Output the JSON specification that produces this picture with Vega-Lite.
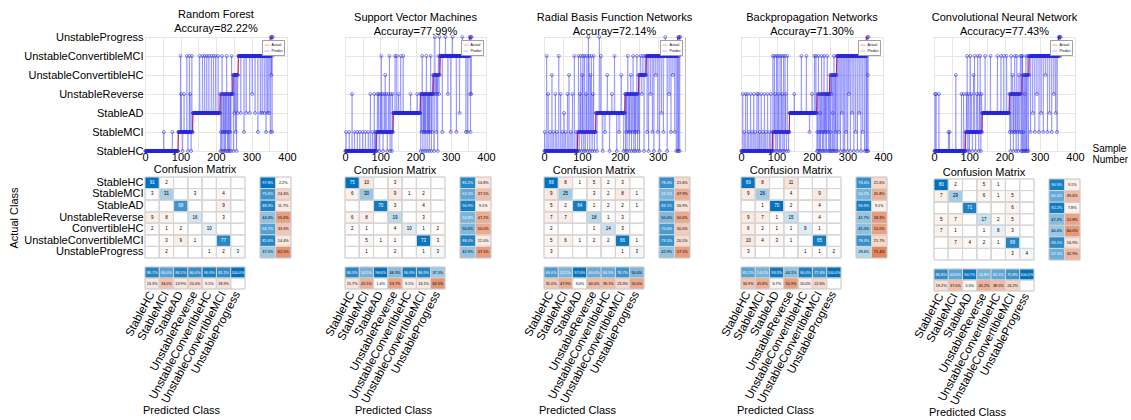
{
"$schema":"https://vega.github.io/schema/vega-lite/v6.json",
"background":"white",
"padding":{"left":8,"top":8,"right":0,"bottom":0},
"config":{"font":"Liberation Sans","view":{"stroke":null},
"title":{"fontSize":11,"fontWeight":"normal","color":"black","lineHeight":14,"offset":-3,"font":"Liberation Sans"},
"axis":{"labelFont":"Liberation Sans","titleFont":"Liberation Sans","labelColor":"black","titleColor":"black","titleFontWeight":"normal","labelFontSize":11,"titleFontSize":11},
"legend":{"labelFont":"Liberation Sans"}},
"spacing":26,
"resolve":{"scale":{"color":"independent","fillOpacity":"independent"},"legend":{"color":"independent"}},
"datasets":{
"samples":[
{"i":1,"a":0,"svm":0,"rbf":0,"bp":0,"cnn":0,"ra":0,"rf":0},
{"i":2,"a":0,"svm":0,"rbf":1,"bp":0,"cnn":0,"ra":0,"rf":0},
{"i":3,"a":0,"svm":1,"rbf":0,"bp":0,"cnn":3,"ra":0,"rf":0},
{"i":4,"a":0,"svm":0,"rbf":0,"bp":0,"cnn":0,"ra":0,"rf":0},
{"i":5,"a":0,"svm":0,"rbf":0,"bp":3,"cnn":0,"ra":0,"rf":0},
{"i":6,"a":0,"svm":0,"rbf":0,"bp":0,"cnn":3,"ra":0,"rf":0},
{"i":7,"a":0,"svm":0,"rbf":5,"bp":0,"cnn":0,"ra":0,"rf":0},
{"i":8,"a":0,"svm":0,"rbf":0,"bp":0,"cnn":0,"ra":0,"rf":0},
{"i":9,"a":0,"svm":0,"rbf":0,"bp":1,"cnn":0,"ra":0,"rf":0},
{"i":10,"a":0,"svm":0,"rbf":0,"bp":0,"cnn":0,"ra":0,"rf":0},
{"i":11,"a":0,"svm":0,"rbf":3,"bp":0,"cnn":0,"ra":0,"rf":0},
{"i":12,"a":0,"svm":1,"rbf":0,"bp":0,"cnn":0,"ra":0,"rf":0},
{"i":13,"a":0,"svm":0,"rbf":0,"bp":3,"cnn":0,"ra":0,"rf":0},
{"i":14,"a":0,"svm":0,"rbf":0,"bp":0,"cnn":3,"ra":0,"rf":0},
{"i":15,"a":0,"svm":0,"rbf":0,"bp":0,"cnn":0,"ra":0,"rf":0},
{"i":16,"a":0,"svm":0,"rbf":1,"bp":0,"cnn":0,"ra":0,"rf":0},
{"i":17,"a":0,"svm":0,"rbf":0,"bp":0,"cnn":0,"ra":0,"rf":0},
{"i":18,"a":0,"svm":0,"rbf":0,"bp":3,"cnn":0,"ra":0,"rf":0},
{"i":19,"a":0,"svm":0,"rbf":0,"bp":0,"cnn":0,"ra":0,"rf":0},
{"i":20,"a":0,"svm":3,"rbf":0,"bp":0,"cnn":0,"ra":0,"rf":0},
{"i":21,"a":0,"svm":0,"rbf":4,"bp":0,"cnn":0,"ra":0,"rf":0},
{"i":22,"a":0,"svm":0,"rbf":0,"bp":1,"cnn":0,"ra":0,"rf":0},
{"i":23,"a":0,"svm":0,"rbf":0,"bp":0,"cnn":0,"ra":0,"rf":0},
{"i":24,"a":0,"svm":0,"rbf":0,"bp":0,"cnn":0,"ra":0,"rf":0},
{"i":25,"a":0,"svm":0,"rbf":1,"bp":0,"cnn":0,"ra":0,"rf":0},
{"i":26,"a":0,"svm":0,"rbf":0,"bp":0,"cnn":0,"ra":0,"rf":0},
{"i":27,"a":0,"svm":1,"rbf":0,"bp":3,"cnn":0,"ra":0,"rf":0},
{"i":28,"a":0,"svm":0,"rbf":0,"bp":0,"cnn":0,"ra":0,"rf":0},
{"i":29,"a":0,"svm":0,"rbf":0,"bp":0,"cnn":0,"ra":0,"rf":0},
{"i":30,"a":0,"svm":0,"rbf":3,"bp":0,"cnn":0,"ra":0,"rf":0},
{"i":31,"a":0,"svm":0,"rbf":0,"bp":1,"cnn":0,"ra":0,"rf":0},
{"i":32,"a":0,"svm":0,"rbf":0,"bp":0,"cnn":0,"ra":0,"rf":0},
{"i":33,"a":0,"svm":0,"rbf":0,"bp":0,"cnn":0,"ra":0,"rf":0},
{"i":34,"a":0,"svm":0,"rbf":1,"bp":0,"cnn":0,"ra":0,"rf":0},
{"i":35,"a":0,"svm":1,"rbf":0,"bp":0,"cnn":0,"ra":0,"rf":0},
{"i":36,"a":0,"svm":0,"rbf":0,"bp":3,"cnn":0,"ra":0,"rf":0},
{"i":37,"a":0,"svm":0,"rbf":0,"bp":0,"cnn":0,"ra":0,"rf":0},
{"i":38,"a":0,"svm":0,"rbf":0,"bp":0,"cnn":0,"ra":0,"rf":0},
{"i":39,"a":0,"svm":0,"rbf":5,"bp":0,"cnn":0,"ra":0,"rf":0},
{"i":40,"a":0,"svm":0,"rbf":0,"bp":1,"cnn":0,"ra":0,"rf":0},
{"i":41,"a":0,"svm":0,"rbf":0,"bp":0,"cnn":1,"ra":0,"rf":0},
{"i":42,"a":0,"svm":1,"rbf":0,"bp":0,"cnn":0,"ra":0,"rf":0},
{"i":43,"a":0,"svm":0,"rbf":0,"bp":0,"cnn":0,"ra":0,"rf":0},
{"i":44,"a":0,"svm":0,"rbf":3,"bp":0,"cnn":1,"ra":0,"rf":0},
{"i":45,"a":0,"svm":0,"rbf":0,"bp":3,"cnn":0,"ra":0,"rf":0},
{"i":46,"a":0,"svm":0,"rbf":0,"bp":0,"cnn":0,"ra":0,"rf":0},
{"i":47,"a":0,"svm":0,"rbf":0,"bp":0,"cnn":0,"ra":0,"rf":0},
{"i":48,"a":0,"svm":0,"rbf":1,"bp":0,"cnn":0,"ra":0,"rf":0},
{"i":49,"a":0,"svm":0,"rbf":0,"bp":3,"cnn":0,"ra":0,"rf":0},
{"i":50,"a":0,"svm":1,"rbf":0,"bp":0,"cnn":0,"ra":0,"rf":0},
{"i":51,"a":0,"svm":0,"rbf":0,"bp":0,"cnn":0,"ra":0,"rf":0},
{"i":52,"a":0,"svm":0,"rbf":0,"bp":0,"cnn":0,"ra":0,"rf":0},
{"i":53,"a":0,"svm":0,"rbf":2,"bp":1,"cnn":0,"ra":0,"rf":1},
{"i":54,"a":0,"svm":0,"rbf":0,"bp":0,"cnn":0,"ra":0,"rf":0},
{"i":55,"a":0,"svm":0,"rbf":0,"bp":0,"cnn":0,"ra":0,"rf":0},
{"i":56,"a":0,"svm":0,"rbf":0,"bp":0,"cnn":0,"ra":0,"rf":0},
{"i":57,"a":0,"svm":0,"rbf":1,"bp":3,"cnn":0,"ra":0,"rf":0},
{"i":58,"a":0,"svm":1,"rbf":0,"bp":0,"cnn":0,"ra":0,"rf":0},
{"i":59,"a":0,"svm":0,"rbf":0,"bp":0,"cnn":0,"ra":0,"rf":0},
{"i":60,"a":0,"svm":0,"rbf":0,"bp":0,"cnn":0,"ra":0,"rf":0},
{"i":61,"a":0,"svm":0,"rbf":0,"bp":0,"cnn":0,"ra":0,"rf":0},
{"i":62,"a":0,"svm":0,"rbf":3,"bp":1,"cnn":4,"ra":0,"rf":0},
{"i":63,"a":0,"svm":0,"rbf":0,"bp":0,"cnn":0,"ra":0,"rf":0},
{"i":64,"a":0,"svm":0,"rbf":0,"bp":0,"cnn":0,"ra":0,"rf":0},
{"i":65,"a":0,"svm":0,"rbf":0,"bp":0,"cnn":0,"ra":0,"rf":0},
{"i":66,"a":0,"svm":1,"rbf":4,"bp":3,"cnn":0,"ra":0,"rf":0},
{"i":67,"a":0,"svm":0,"rbf":0,"bp":0,"cnn":0,"ra":0,"rf":0},
{"i":68,"a":0,"svm":0,"rbf":0,"bp":0,"cnn":0,"ra":0,"rf":0},
{"i":69,"a":0,"svm":0,"rbf":0,"bp":0,"cnn":0,"ra":0,"rf":0},
{"i":70,"a":0,"svm":0,"rbf":0,"bp":1,"cnn":0,"ra":0,"rf":0},
{"i":71,"a":0,"svm":0,"rbf":1,"bp":0,"cnn":0,"ra":0,"rf":0},
{"i":72,"a":0,"svm":3,"rbf":0,"bp":0,"cnn":0,"ra":0,"rf":0},
{"i":73,"a":0,"svm":0,"rbf":0,"bp":0,"cnn":0,"ra":0,"rf":0},
{"i":74,"a":0,"svm":0,"rbf":0,"bp":0,"cnn":0,"ra":0,"rf":0},
{"i":75,"a":0,"svm":0,"rbf":3,"bp":3,"cnn":0,"ra":0,"rf":0},
{"i":76,"a":0,"svm":0,"rbf":0,"bp":0,"cnn":0,"ra":0,"rf":0},
{"i":77,"a":0,"svm":0,"rbf":0,"bp":0,"cnn":0,"ra":0,"rf":1},
{"i":78,"a":0,"svm":1,"rbf":0,"bp":0,"cnn":3,"ra":0,"rf":0},
{"i":79,"a":0,"svm":0,"rbf":0,"bp":0,"cnn":0,"ra":0,"rf":0},
{"i":80,"a":0,"svm":0,"rbf":5,"bp":1,"cnn":0,"ra":0,"rf":0},
{"i":81,"a":0,"svm":0,"rbf":0,"bp":0,"cnn":0,"ra":0,"rf":0},
{"i":82,"a":0,"svm":0,"rbf":0,"bp":0,"cnn":0,"ra":0,"rf":0},
{"i":83,"a":0,"svm":3,"rbf":0,"bp":0,"cnn":0,"ra":0,"rf":0},
{"i":84,"a":0,"svm":0,"rbf":0,"bp":3,"cnn":3,"ra":0,"rf":0},
{"i":85,"a":0,"svm":0,"rbf":1,"bp":0,"cnn":0,"ra":0,"rf":0},
{"i":86,"a":0,"svm":1,"rbf":0,"bp":0,"cnn":0,"ra":0,"rf":0},
{"i":87,"a":0,"svm":0,"rbf":0,"bp":0,"cnn":0,"ra":0,"rf":0},
{"i":88,"a":0,"svm":0,"rbf":0,"bp":0,"cnn":0,"ra":0,"rf":0},
{"i":89,"a":1,"svm":1,"rbf":0,"bp":1,"cnn":1,"ra":0,"rf":0},
{"i":90,"a":1,"svm":0,"rbf":1,"bp":5,"cnn":0,"ra":0,"rf":0},
{"i":91,"a":1,"svm":1,"rbf":5,"bp":1,"cnn":1,"ra":0,"rf":0},
{"i":92,"a":1,"svm":3,"rbf":1,"bp":0,"cnn":3,"ra":0,"rf":0},
{"i":93,"a":1,"svm":1,"rbf":0,"bp":1,"cnn":1,"ra":0,"rf":0},
{"i":94,"a":1,"svm":1,"rbf":1,"bp":5,"cnn":5,"ra":1,"rf":1},
{"i":95,"a":1,"svm":3,"rbf":3,"bp":1,"cnn":1,"ra":1,"rf":1},
{"i":96,"a":1,"svm":1,"rbf":1,"bp":3,"cnn":0,"ra":1,"rf":1},
{"i":97,"a":1,"svm":0,"rbf":5,"bp":1,"cnn":1,"ra":1,"rf":1},
{"i":98,"a":1,"svm":1,"rbf":1,"bp":0,"cnn":3,"ra":1,"rf":1},
{"i":99,"a":1,"svm":1,"rbf":0,"bp":1,"cnn":1,"ra":1,"rf":1},
{"i":100,"a":1,"svm":3,"rbf":1,"bp":5,"cnn":0,"ra":1,"rf":5},
{"i":101,"a":1,"svm":1,"rbf":4,"bp":1,"cnn":1,"ra":1,"rf":1},
{"i":102,"a":1,"svm":1,"rbf":1,"bp":0,"cnn":1,"ra":1,"rf":3},
{"i":103,"a":1,"svm":5,"rbf":5,"bp":1,"cnn":5,"ra":1,"rf":1},
{"i":104,"a":1,"svm":1,"rbf":1,"bp":5,"cnn":1,"ra":1,"rf":1},
{"i":105,"a":1,"svm":3,"rbf":0,"bp":1,"cnn":1,"ra":1,"rf":1},
{"i":106,"a":1,"svm":1,"rbf":1,"bp":3,"cnn":3,"ra":1,"rf":0},
{"i":107,"a":1,"svm":1,"rbf":5,"bp":1,"cnn":1,"ra":1,"rf":1},
{"i":108,"a":1,"svm":0,"rbf":1,"bp":0,"cnn":1,"ra":1,"rf":1},
{"i":109,"a":1,"svm":1,"rbf":0,"bp":1,"cnn":0,"ra":1,"rf":1},
{"i":110,"a":1,"svm":1,"rbf":1,"bp":5,"cnn":1,"ra":1,"rf":3},
{"i":111,"a":1,"svm":3,"rbf":3,"bp":1,"cnn":1,"ra":1,"rf":1},
{"i":112,"a":1,"svm":1,"rbf":1,"bp":0,"cnn":4,"ra":1,"rf":1},
{"i":113,"a":1,"svm":1,"rbf":5,"bp":1,"cnn":1,"ra":1,"rf":1},
{"i":114,"a":1,"svm":4,"rbf":1,"bp":5,"cnn":1,"ra":1,"rf":1},
{"i":115,"a":1,"svm":1,"rbf":0,"bp":1,"cnn":5,"ra":1,"rf":1},
{"i":116,"a":1,"svm":1,"rbf":1,"bp":3,"cnn":1,"ra":1,"rf":1},
{"i":117,"a":1,"svm":3,"rbf":6,"bp":1,"cnn":1,"ra":1,"rf":1},
{"i":118,"a":1,"svm":1,"rbf":1,"bp":0,"cnn":0,"ra":1,"rf":5},
{"i":119,"a":1,"svm":1,"rbf":5,"bp":1,"cnn":1,"ra":1,"rf":1},
{"i":120,"a":1,"svm":0,"rbf":1,"bp":5,"cnn":1,"ra":1,"rf":1},
{"i":121,"a":1,"svm":1,"rbf":0,"bp":1,"cnn":3,"ra":1,"rf":0},
{"i":122,"a":1,"svm":1,"rbf":1,"bp":0,"cnn":1,"ra":1,"rf":1},
{"i":123,"a":1,"svm":3,"rbf":4,"bp":1,"cnn":1,"ra":1,"rf":1},
{"i":124,"a":1,"svm":1,"rbf":1,"bp":5,"cnn":5,"ra":1,"rf":1},
{"i":125,"a":1,"svm":1,"rbf":5,"bp":1,"cnn":1,"ra":1,"rf":5},
{"i":126,"a":1,"svm":5,"rbf":1,"bp":3,"cnn":1,"ra":1,"rf":1},
{"i":127,"a":1,"svm":1,"rbf":0,"bp":1,"cnn":0,"ra":1,"rf":3},
{"i":128,"a":1,"svm":0,"rbf":1,"bp":0,"cnn":1,"ra":1,"rf":1},
{"i":129,"a":1,"svm":1,"rbf":3,"bp":1,"cnn":3,"ra":1,"rf":1},
{"i":130,"a":1,"svm":3,"rbf":1,"bp":1,"cnn":1,"ra":1,"rf":0},
{"i":131,"a":1,"svm":1,"rbf":5,"bp":5,"cnn":5,"ra":1,"rf":1},
{"i":132,"a":1,"svm":1,"rbf":1,"bp":1,"cnn":1,"ra":1,"rf":5},
{"i":133,"a":1,"svm":0,"rbf":0,"bp":1,"cnn":0,"ra":1,"rf":1},
{"i":134,"a":1,"svm":1,"rbf":1,"bp":0,"cnn":1,"ra":1,"rf":1},
{"i":135,"a":1,"svm":3,"rbf":1,"bp":1,"cnn":3,"ra":2,"rf":2},
{"i":136,"a":1,"svm":1,"rbf":1,"bp":1,"cnn":1,"ra":2,"rf":2},
{"i":137,"a":2,"svm":2,"rbf":2,"bp":2,"cnn":2,"ra":2,"rf":2},
{"i":138,"a":2,"svm":2,"rbf":2,"bp":2,"cnn":2,"ra":2,"rf":2},
{"i":139,"a":2,"svm":2,"rbf":2,"bp":2,"cnn":2,"ra":2,"rf":2},
{"i":140,"a":2,"svm":2,"rbf":0,"bp":2,"cnn":2,"ra":2,"rf":2},
{"i":141,"a":2,"svm":2,"rbf":2,"bp":2,"cnn":2,"ra":2,"rf":2},
{"i":142,"a":2,"svm":5,"rbf":2,"bp":2,"cnn":2,"ra":2,"rf":2},
{"i":143,"a":2,"svm":2,"rbf":2,"bp":2,"cnn":2,"ra":2,"rf":2},
{"i":144,"a":2,"svm":2,"rbf":2,"bp":2,"cnn":2,"ra":2,"rf":2},
{"i":145,"a":2,"svm":2,"rbf":2,"bp":2,"cnn":5,"ra":2,"rf":2},
{"i":146,"a":2,"svm":2,"rbf":6,"bp":2,"cnn":2,"ra":2,"rf":2},
{"i":147,"a":2,"svm":5,"rbf":2,"bp":2,"cnn":2,"ra":2,"rf":2},
{"i":148,"a":2,"svm":2,"rbf":2,"bp":2,"cnn":2,"ra":2,"rf":2},
{"i":149,"a":2,"svm":2,"rbf":2,"bp":2,"cnn":2,"ra":2,"rf":2},
{"i":150,"a":2,"svm":2,"rbf":5,"bp":3,"cnn":2,"ra":2,"rf":2},
{"i":151,"a":2,"svm":2,"rbf":2,"bp":2,"cnn":2,"ra":2,"rf":2},
{"i":152,"a":2,"svm":3,"rbf":2,"bp":2,"cnn":2,"ra":2,"rf":2},
{"i":153,"a":2,"svm":2,"rbf":2,"bp":2,"cnn":2,"ra":2,"rf":2},
{"i":154,"a":2,"svm":2,"rbf":2,"bp":2,"cnn":2,"ra":2,"rf":5},
{"i":155,"a":2,"svm":2,"rbf":0,"bp":2,"cnn":2,"ra":2,"rf":2},
{"i":156,"a":2,"svm":2,"rbf":2,"bp":2,"cnn":2,"ra":2,"rf":2},
{"i":157,"a":2,"svm":2,"rbf":2,"bp":2,"cnn":2,"ra":2,"rf":2},
{"i":158,"a":2,"svm":5,"rbf":2,"bp":2,"cnn":2,"ra":2,"rf":2},
{"i":159,"a":2,"svm":2,"rbf":2,"bp":2,"cnn":2,"ra":2,"rf":2},
{"i":160,"a":2,"svm":2,"rbf":2,"bp":2,"cnn":5,"ra":2,"rf":2},
{"i":161,"a":2,"svm":2,"rbf":1,"bp":2,"cnn":2,"ra":2,"rf":2},
{"i":162,"a":2,"svm":2,"rbf":2,"bp":2,"cnn":2,"ra":2,"rf":5},
{"i":163,"a":2,"svm":2,"rbf":2,"bp":2,"cnn":2,"ra":2,"rf":2},
{"i":164,"a":2,"svm":2,"rbf":2,"bp":2,"cnn":2,"ra":2,"rf":2},
{"i":165,"a":2,"svm":5,"rbf":2,"bp":2,"cnn":2,"ra":2,"rf":2},
{"i":166,"a":2,"svm":2,"rbf":2,"bp":2,"cnn":2,"ra":2,"rf":2},
{"i":167,"a":2,"svm":2,"rbf":4,"bp":2,"cnn":2,"ra":2,"rf":2},
{"i":168,"a":2,"svm":2,"rbf":2,"bp":2,"cnn":2,"ra":2,"rf":5},
{"i":169,"a":2,"svm":2,"rbf":2,"bp":2,"cnn":2,"ra":2,"rf":2},
{"i":170,"a":2,"svm":2,"rbf":2,"bp":5,"cnn":2,"ra":2,"rf":2},
{"i":171,"a":2,"svm":2,"rbf":2,"bp":2,"cnn":2,"ra":2,"rf":2},
{"i":172,"a":2,"svm":2,"rbf":2,"bp":2,"cnn":2,"ra":2,"rf":2},
{"i":173,"a":2,"svm":2,"rbf":0,"bp":2,"cnn":2,"ra":2,"rf":2},
{"i":174,"a":2,"svm":2,"rbf":2,"bp":2,"cnn":2,"ra":2,"rf":5},
{"i":175,"a":2,"svm":2,"rbf":2,"bp":2,"cnn":2,"ra":2,"rf":2},
{"i":176,"a":2,"svm":2,"rbf":2,"bp":2,"cnn":2,"ra":2,"rf":2},
{"i":177,"a":2,"svm":2,"rbf":2,"bp":2,"cnn":2,"ra":2,"rf":2},
{"i":178,"a":2,"svm":2,"rbf":2,"bp":2,"cnn":2,"ra":2,"rf":2},
{"i":179,"a":2,"svm":2,"rbf":3,"bp":2,"cnn":2,"ra":2,"rf":2},
{"i":180,"a":2,"svm":2,"rbf":2,"bp":2,"cnn":5,"ra":2,"rf":5},
{"i":181,"a":2,"svm":2,"rbf":2,"bp":2,"cnn":2,"ra":2,"rf":2},
{"i":182,"a":2,"svm":2,"rbf":2,"bp":2,"cnn":2,"ra":2,"rf":2},
{"i":183,"a":2,"svm":2,"rbf":2,"bp":2,"cnn":2,"ra":2,"rf":2},
{"i":184,"a":2,"svm":2,"rbf":2,"bp":5,"cnn":2,"ra":2,"rf":2},
{"i":185,"a":2,"svm":2,"rbf":2,"bp":2,"cnn":2,"ra":2,"rf":2},
{"i":186,"a":2,"svm":3,"rbf":5,"bp":2,"cnn":2,"ra":2,"rf":2},
{"i":187,"a":2,"svm":2,"rbf":2,"bp":2,"cnn":2,"ra":2,"rf":5},
{"i":188,"a":2,"svm":2,"rbf":2,"bp":2,"cnn":2,"ra":2,"rf":2},
{"i":189,"a":2,"svm":2,"rbf":2,"bp":2,"cnn":2,"ra":2,"rf":2},
{"i":190,"a":2,"svm":2,"rbf":2,"bp":2,"cnn":5,"ra":2,"rf":2},
{"i":191,"a":2,"svm":2,"rbf":2,"bp":2,"cnn":2,"ra":2,"rf":2},
{"i":192,"a":2,"svm":2,"rbf":0,"bp":2,"cnn":2,"ra":2,"rf":2},
{"i":193,"a":2,"svm":2,"rbf":2,"bp":1,"cnn":2,"ra":2,"rf":5},
{"i":194,"a":2,"svm":2,"rbf":2,"bp":2,"cnn":2,"ra":2,"rf":2},
{"i":195,"a":2,"svm":2,"rbf":2,"bp":2,"cnn":2,"ra":2,"rf":2},
{"i":196,"a":2,"svm":2,"rbf":2,"bp":2,"cnn":2,"ra":2,"rf":2},
{"i":197,"a":2,"svm":2,"rbf":2,"bp":2,"cnn":2,"ra":2,"rf":2},
{"i":198,"a":2,"svm":2,"rbf":1,"bp":2,"cnn":5,"ra":2,"rf":2},
{"i":199,"a":2,"svm":2,"rbf":2,"bp":2,"cnn":2,"ra":2,"rf":5},
{"i":200,"a":2,"svm":2,"rbf":2,"bp":3,"cnn":2,"ra":2,"rf":2},
{"i":201,"a":2,"svm":2,"rbf":2,"bp":2,"cnn":2,"ra":2,"rf":2},
{"i":202,"a":2,"svm":2,"rbf":2,"bp":2,"cnn":2,"ra":2,"rf":2},
{"i":203,"a":2,"svm":2,"rbf":2,"bp":2,"cnn":2,"ra":2,"rf":2},
{"i":204,"a":2,"svm":2,"rbf":4,"bp":2,"cnn":2,"ra":2,"rf":2},
{"i":205,"a":2,"svm":3,"rbf":2,"bp":2,"cnn":2,"ra":2,"rf":2},
{"i":206,"a":2,"svm":2,"rbf":2,"bp":2,"cnn":5,"ra":2,"rf":5},
{"i":207,"a":2,"svm":2,"rbf":2,"bp":5,"cnn":2,"ra":2,"rf":2},
{"i":208,"a":2,"svm":2,"rbf":2,"bp":2,"cnn":2,"ra":2,"rf":2},
{"i":209,"a":2,"svm":2,"rbf":2,"bp":2,"cnn":2,"ra":2,"rf":2},
{"i":210,"a":2,"svm":2,"rbf":0,"bp":2,"cnn":2,"ra":2,"rf":2},
{"i":211,"a":2,"svm":2,"rbf":2,"bp":5,"cnn":2,"ra":2,"rf":2},
{"i":212,"a":2,"svm":2,"rbf":2,"bp":2,"cnn":2,"ra":3,"rf":3},
{"i":213,"a":2,"svm":2,"rbf":2,"bp":2,"cnn":2,"ra":3,"rf":0},
{"i":214,"a":3,"svm":3,"rbf":3,"bp":0,"cnn":3,"ra":3,"rf":1},
{"i":215,"a":3,"svm":0,"rbf":0,"bp":1,"cnn":1,"ra":3,"rf":3},
{"i":216,"a":3,"svm":3,"rbf":3,"bp":3,"cnn":3,"ra":3,"rf":0},
{"i":217,"a":3,"svm":1,"rbf":1,"bp":0,"cnn":0,"ra":3,"rf":5},
{"i":218,"a":3,"svm":3,"rbf":3,"bp":5,"cnn":3,"ra":3,"rf":3},
{"i":219,"a":3,"svm":5,"rbf":0,"bp":3,"cnn":5,"ra":3,"rf":1},
{"i":220,"a":3,"svm":3,"rbf":3,"bp":1,"cnn":3,"ra":3,"rf":0},
{"i":221,"a":3,"svm":0,"rbf":5,"bp":0,"cnn":1,"ra":3,"rf":3},
{"i":222,"a":3,"svm":3,"rbf":3,"bp":3,"cnn":3,"ra":3,"rf":1},
{"i":223,"a":3,"svm":1,"rbf":1,"bp":2,"cnn":4,"ra":3,"rf":3},
{"i":224,"a":3,"svm":3,"rbf":3,"bp":0,"cnn":3,"ra":3,"rf":0},
{"i":225,"a":3,"svm":1,"rbf":0,"bp":3,"cnn":0,"ra":3,"rf":1},
{"i":226,"a":3,"svm":3,"rbf":3,"bp":1,"cnn":3,"ra":3,"rf":3},
{"i":227,"a":3,"svm":0,"rbf":1,"bp":5,"cnn":1,"ra":3,"rf":0},
{"i":228,"a":3,"svm":3,"rbf":3,"bp":3,"cnn":3,"ra":3,"rf":3},
{"i":229,"a":3,"svm":1,"rbf":4,"bp":0,"cnn":5,"ra":3,"rf":1},
{"i":230,"a":3,"svm":3,"rbf":3,"bp":1,"cnn":3,"ra":3,"rf":5},
{"i":231,"a":3,"svm":5,"rbf":0,"bp":3,"cnn":1,"ra":3,"rf":3},
{"i":232,"a":3,"svm":3,"rbf":3,"bp":0,"cnn":3,"ra":3,"rf":0},
{"i":233,"a":3,"svm":0,"rbf":1,"bp":3,"cnn":0,"ra":3,"rf":1},
{"i":234,"a":3,"svm":3,"rbf":3,"bp":5,"cnn":3,"ra":3,"rf":3},
{"i":235,"a":3,"svm":1,"rbf":5,"bp":1,"cnn":5,"ra":3,"rf":0},
{"i":236,"a":3,"svm":3,"rbf":3,"bp":3,"cnn":3,"ra":3,"rf":3},
{"i":237,"a":3,"svm":1,"rbf":0,"bp":0,"cnn":1,"ra":3,"rf":1},
{"i":238,"a":3,"svm":3,"rbf":3,"bp":3,"cnn":3,"ra":3,"rf":0},
{"i":239,"a":3,"svm":0,"rbf":1,"bp":1,"cnn":0,"ra":3,"rf":3},
{"i":240,"a":3,"svm":3,"rbf":3,"bp":3,"cnn":3,"ra":3,"rf":1},
{"i":241,"a":3,"svm":1,"rbf":0,"bp":0,"cnn":4,"ra":3,"rf":3},
{"i":242,"a":3,"svm":3,"rbf":3,"bp":3,"cnn":3,"ra":3,"rf":0},
{"i":243,"a":3,"svm":5,"rbf":1,"bp":5,"cnn":1,"ra":3,"rf":3},
{"i":244,"a":3,"svm":3,"rbf":3,"bp":3,"cnn":3,"ra":3,"rf":5},
{"i":245,"a":3,"svm":0,"rbf":5,"bp":1,"cnn":5,"ra":3,"rf":3},
{"i":246,"a":3,"svm":3,"rbf":3,"bp":3,"cnn":3,"ra":3,"rf":3},
{"i":247,"a":3,"svm":1,"rbf":0,"bp":0,"cnn":0,"ra":3,"rf":3},
{"i":248,"a":3,"svm":3,"rbf":3,"bp":3,"cnn":1,"ra":4,"rf":4},
{"i":249,"a":3,"svm":3,"rbf":1,"bp":3,"cnn":5,"ra":4,"rf":0},
{"i":250,"a":4,"svm":4,"rbf":4,"bp":0,"cnn":0,"ra":4,"rf":4},
{"i":251,"a":4,"svm":3,"rbf":4,"bp":4,"cnn":5,"ra":4,"rf":4},
{"i":252,"a":4,"svm":4,"rbf":0,"bp":1,"cnn":4,"ra":4,"rf":2},
{"i":253,"a":4,"svm":0,"rbf":4,"bp":0,"cnn":0,"ra":4,"rf":4},
{"i":254,"a":4,"svm":4,"rbf":4,"bp":4,"cnn":1,"ra":4,"rf":4},
{"i":255,"a":4,"svm":6,"rbf":5,"bp":3,"cnn":4,"ra":4,"rf":1},
{"i":256,"a":4,"svm":4,"rbf":4,"bp":4,"cnn":0,"ra":4,"rf":4},
{"i":257,"a":4,"svm":3,"rbf":4,"bp":0,"cnn":3,"ra":4,"rf":4},
{"i":258,"a":4,"svm":4,"rbf":3,"bp":2,"cnn":4,"ra":4,"rf":0},
{"i":259,"a":4,"svm":1,"rbf":4,"bp":4,"cnn":0,"ra":4,"rf":4},
{"i":260,"a":4,"svm":4,"rbf":4,"bp":0,"cnn":4,"ra":4,"rf":4},
{"i":261,"a":4,"svm":3,"rbf":5,"bp":4,"cnn":5,"ra":4,"rf":2},
{"i":262,"a":4,"svm":4,"rbf":4,"bp":5,"cnn":0,"ra":4,"rf":4},
{"i":263,"a":4,"svm":0,"rbf":4,"bp":4,"cnn":4,"ra":5,"rf":5},
{"i":264,"a":4,"svm":4,"rbf":0,"bp":0,"cnn":0,"ra":5,"rf":5},
{"i":265,"a":4,"svm":5,"rbf":4,"bp":4,"cnn":4,"ra":5,"rf":5},
{"i":266,"a":4,"svm":4,"rbf":4,"bp":1,"cnn":5,"ra":5,"rf":5},
{"i":267,"a":4,"svm":3,"rbf":5,"bp":4,"cnn":4,"ra":5,"rf":5},
{"i":268,"a":4,"svm":6,"rbf":4,"bp":0,"cnn":0,"ra":5,"rf":5},
{"i":269,"a":4,"svm":4,"rbf":4,"bp":4,"cnn":4,"ra":5,"rf":5},
{"i":270,"a":5,"svm":5,"rbf":5,"bp":5,"cnn":5,"ra":5,"rf":2},
{"i":271,"a":5,"svm":5,"rbf":5,"bp":5,"cnn":5,"ra":5,"rf":5},
{"i":272,"a":5,"svm":5,"rbf":1,"bp":0,"cnn":5,"ra":5,"rf":5},
{"i":273,"a":5,"svm":5,"rbf":5,"bp":5,"cnn":5,"ra":5,"rf":5},
{"i":274,"a":5,"svm":5,"rbf":5,"bp":5,"cnn":1,"ra":5,"rf":5},
{"i":275,"a":5,"svm":5,"rbf":5,"bp":5,"cnn":5,"ra":5,"rf":5},
{"i":276,"a":5,"svm":1,"rbf":0,"bp":1,"cnn":5,"ra":5,"rf":5},
{"i":277,"a":5,"svm":5,"rbf":5,"bp":5,"cnn":5,"ra":5,"rf":5},
{"i":278,"a":5,"svm":5,"rbf":5,"bp":5,"cnn":5,"ra":5,"rf":5},
{"i":279,"a":5,"svm":5,"rbf":5,"bp":5,"cnn":5,"ra":5,"rf":1},
{"i":280,"a":5,"svm":5,"rbf":5,"bp":0,"cnn":2,"ra":5,"rf":5},
{"i":281,"a":5,"svm":5,"rbf":3,"bp":5,"cnn":5,"ra":5,"rf":5},
{"i":282,"a":5,"svm":5,"rbf":5,"bp":5,"cnn":5,"ra":5,"rf":5},
{"i":283,"a":5,"svm":5,"rbf":5,"bp":5,"cnn":5,"ra":5,"rf":5},
{"i":284,"a":5,"svm":5,"rbf":5,"bp":2,"cnn":5,"ra":5,"rf":5},
{"i":285,"a":5,"svm":6,"rbf":5,"bp":5,"cnn":5,"ra":5,"rf":2},
{"i":286,"a":5,"svm":5,"rbf":1,"bp":5,"cnn":1,"ra":5,"rf":5},
{"i":287,"a":5,"svm":5,"rbf":5,"bp":5,"cnn":5,"ra":5,"rf":5},
{"i":288,"a":5,"svm":5,"rbf":5,"bp":0,"cnn":5,"ra":5,"rf":5},
{"i":289,"a":5,"svm":5,"rbf":5,"bp":5,"cnn":5,"ra":5,"rf":5},
{"i":290,"a":5,"svm":5,"rbf":0,"bp":5,"cnn":5,"ra":5,"rf":5},
{"i":291,"a":5,"svm":5,"rbf":5,"bp":5,"cnn":5,"ra":5,"rf":5},
{"i":292,"a":5,"svm":3,"rbf":5,"bp":0,"cnn":3,"ra":5,"rf":5},
{"i":293,"a":5,"svm":5,"rbf":5,"bp":5,"cnn":5,"ra":5,"rf":5},
{"i":294,"a":5,"svm":5,"rbf":5,"bp":5,"cnn":5,"ra":5,"rf":5},
{"i":295,"a":5,"svm":5,"rbf":4,"bp":5,"cnn":5,"ra":5,"rf":2},
{"i":296,"a":5,"svm":5,"rbf":5,"bp":1,"cnn":5,"ra":5,"rf":5},
{"i":297,"a":5,"svm":5,"rbf":5,"bp":5,"cnn":5,"ra":5,"rf":5},
{"i":298,"a":5,"svm":5,"rbf":5,"bp":5,"cnn":1,"ra":5,"rf":5},
{"i":299,"a":5,"svm":5,"rbf":5,"bp":5,"cnn":5,"ra":5,"rf":5},
{"i":300,"a":5,"svm":1,"rbf":1,"bp":0,"cnn":5,"ra":5,"rf":5},
{"i":301,"a":5,"svm":5,"rbf":5,"bp":5,"cnn":5,"ra":5,"rf":5},
{"i":302,"a":5,"svm":5,"rbf":5,"bp":5,"cnn":5,"ra":5,"rf":3},
{"i":303,"a":5,"svm":5,"rbf":5,"bp":5,"cnn":5,"ra":5,"rf":5},
{"i":304,"a":5,"svm":5,"rbf":5,"bp":3,"cnn":2,"ra":5,"rf":5},
{"i":305,"a":5,"svm":6,"rbf":0,"bp":5,"cnn":5,"ra":5,"rf":5},
{"i":306,"a":5,"svm":5,"rbf":5,"bp":5,"cnn":5,"ra":5,"rf":5},
{"i":307,"a":5,"svm":5,"rbf":5,"bp":5,"cnn":5,"ra":5,"rf":5},
{"i":308,"a":5,"svm":5,"rbf":5,"bp":0,"cnn":5,"ra":5,"rf":5},
{"i":309,"a":5,"svm":5,"rbf":5,"bp":5,"cnn":5,"ra":5,"rf":5},
{"i":310,"a":5,"svm":5,"rbf":2,"bp":5,"cnn":1,"ra":5,"rf":2},
{"i":311,"a":5,"svm":5,"rbf":5,"bp":5,"cnn":5,"ra":5,"rf":5},
{"i":312,"a":5,"svm":5,"rbf":5,"bp":5,"cnn":5,"ra":5,"rf":5},
{"i":313,"a":5,"svm":5,"rbf":5,"bp":2,"cnn":5,"ra":5,"rf":5},
{"i":314,"a":5,"svm":5,"rbf":5,"bp":5,"cnn":5,"ra":5,"rf":5},
{"i":315,"a":5,"svm":5,"rbf":1,"bp":5,"cnn":5,"ra":5,"rf":5},
{"i":316,"a":5,"svm":1,"rbf":5,"bp":5,"cnn":4,"ra":5,"rf":5},
{"i":317,"a":5,"svm":5,"rbf":5,"bp":5,"cnn":5,"ra":5,"rf":5},
{"i":318,"a":5,"svm":5,"rbf":5,"bp":0,"cnn":5,"ra":5,"rf":1},
{"i":319,"a":5,"svm":5,"rbf":5,"bp":5,"cnn":5,"ra":5,"rf":5},
{"i":320,"a":5,"svm":5,"rbf":6,"bp":5,"cnn":5,"ra":5,"rf":5},
{"i":321,"a":5,"svm":5,"rbf":5,"bp":5,"cnn":5,"ra":5,"rf":5},
{"i":322,"a":5,"svm":5,"rbf":5,"bp":5,"cnn":1,"ra":5,"rf":5},
{"i":323,"a":5,"svm":5,"rbf":5,"bp":1,"cnn":5,"ra":5,"rf":5},
{"i":324,"a":5,"svm":5,"rbf":5,"bp":5,"cnn":5,"ra":5,"rf":5},
{"i":325,"a":5,"svm":2,"rbf":0,"bp":5,"cnn":5,"ra":5,"rf":2},
{"i":326,"a":5,"svm":5,"rbf":5,"bp":5,"cnn":5,"ra":5,"rf":5},
{"i":327,"a":5,"svm":5,"rbf":5,"bp":5,"cnn":5,"ra":5,"rf":5},
{"i":328,"a":5,"svm":5,"rbf":5,"bp":0,"cnn":2,"ra":5,"rf":5},
{"i":329,"a":5,"svm":5,"rbf":5,"bp":5,"cnn":5,"ra":5,"rf":5},
{"i":330,"a":5,"svm":5,"rbf":3,"bp":5,"cnn":5,"ra":5,"rf":2},
{"i":331,"a":5,"svm":5,"rbf":5,"bp":5,"cnn":5,"ra":5,"rf":5},
{"i":332,"a":5,"svm":5,"rbf":5,"bp":5,"cnn":5,"ra":5,"rf":5},
{"i":333,"a":5,"svm":6,"rbf":5,"bp":2,"cnn":5,"ra":5,"rf":5},
{"i":334,"a":5,"svm":5,"rbf":5,"bp":5,"cnn":1,"ra":5,"rf":5},
{"i":335,"a":5,"svm":5,"rbf":1,"bp":5,"cnn":5,"ra":5,"rf":5},
{"i":336,"a":5,"svm":5,"rbf":5,"bp":5,"cnn":5,"ra":5,"rf":2},
{"i":337,"a":5,"svm":5,"rbf":5,"bp":5,"cnn":5,"ra":5,"rf":5},
{"i":338,"a":5,"svm":5,"rbf":5,"bp":0,"cnn":5,"ra":5,"rf":5},
{"i":339,"a":5,"svm":5,"rbf":5,"bp":5,"cnn":5,"ra":5,"rf":5},
{"i":340,"a":5,"svm":5,"rbf":4,"bp":5,"cnn":3,"ra":5,"rf":5},
{"i":341,"a":5,"svm":5,"rbf":5,"bp":5,"cnn":5,"ra":5,"rf":1},
{"i":342,"a":5,"svm":5,"rbf":5,"bp":5,"cnn":5,"ra":5,"rf":5},
{"i":343,"a":5,"svm":1,"rbf":5,"bp":1,"cnn":5,"ra":5,"rf":5},
{"i":344,"a":5,"svm":5,"rbf":5,"bp":5,"cnn":5,"ra":5,"rf":5},
{"i":345,"a":5,"svm":5,"rbf":1,"bp":5,"cnn":2,"ra":5,"rf":2},
{"i":346,"a":5,"svm":5,"rbf":5,"bp":5,"cnn":5,"ra":5,"rf":5},
{"i":347,"a":5,"svm":5,"rbf":5,"bp":5,"cnn":5,"ra":5,"rf":5},
{"i":348,"a":5,"svm":1,"rbf":5,"bp":0,"cnn":5,"ra":5,"rf":5},
{"i":349,"a":5,"svm":5,"rbf":0,"bp":5,"cnn":1,"ra":5,"rf":2},
{"i":350,"a":5,"svm":5,"rbf":5,"bp":5,"cnn":5,"ra":5,"rf":5},
{"i":351,"a":5,"svm":5,"rbf":5,"bp":5,"cnn":5,"ra":5,"rf":5},
{"i":352,"a":5,"svm":5,"rbf":5,"bp":5,"cnn":5,"ra":5,"rf":5},
{"i":353,"a":6,"svm":5,"rbf":0,"bp":0,"cnn":5,"ra":6,"rf":5},
{"i":354,"a":6,"svm":6,"rbf":6,"bp":5,"cnn":6,"ra":6,"rf":1},
{"i":355,"a":6,"svm":3,"rbf":0,"bp":0,"cnn":5,"ra":6,"rf":6},
{"i":356,"a":6,"svm":1,"rbf":5,"bp":6,"cnn":6,"ra":6,"rf":4},
{"i":357,"a":6,"svm":6,"rbf":6,"bp":4,"cnn":6,"ra":6,"rf":6},
{"i":358,"a":6,"svm":3,"rbf":0,"bp":0,"cnn":5,"ra":6,"rf":1},
{"i":359,"a":6,"svm":6,"rbf":6,"bp":6,"cnn":6,"ra":6,"rf":5},
{"i":360,"ra":6,"rf":6}
],
"cm_rf":[
{"a":0,"p":0,"n":91},{"a":0,"p":1,"n":2},{"a":0,"p":2,"n":0},{"a":0,"p":3,"n":0},{"a":0,"p":4,"n":0},{"a":0,"p":5,"n":0},{"a":0,"p":6,"n":0},
{"a":1,"p":0,"n":3},{"a":1,"p":1,"n":31},{"a":1,"p":2,"n":0},{"a":1,"p":3,"n":3},{"a":1,"p":4,"n":0},{"a":1,"p":5,"n":4},{"a":1,"p":6,"n":0},
{"a":2,"p":0,"n":0},{"a":2,"p":1,"n":0},{"a":2,"p":2,"n":68},{"a":2,"p":3,"n":0},{"a":2,"p":4,"n":0},{"a":2,"p":5,"n":9},{"a":2,"p":6,"n":0},
{"a":3,"p":0,"n":9},{"a":3,"p":1,"n":8},{"a":3,"p":2,"n":0},{"a":3,"p":3,"n":16},{"a":3,"p":4,"n":0},{"a":3,"p":5,"n":3},{"a":3,"p":6,"n":0},
{"a":4,"p":0,"n":2},{"a":4,"p":1,"n":1},{"a":4,"p":2,"n":2},{"a":4,"p":3,"n":0},{"a":4,"p":4,"n":10},{"a":4,"p":5,"n":0},{"a":4,"p":6,"n":0},
{"a":5,"p":0,"n":0},{"a":5,"p":1,"n":3},{"a":5,"p":2,"n":9},{"a":5,"p":3,"n":1},{"a":5,"p":4,"n":0},{"a":5,"p":5,"n":77},{"a":5,"p":6,"n":0},
{"a":6,"p":0,"n":0},{"a":6,"p":1,"n":2},{"a":6,"p":2,"n":0},{"a":6,"p":3,"n":0},{"a":6,"p":4,"n":1},{"a":6,"p":5,"n":2},{"a":6,"p":6,"n":3}],
"cm_svm":[
{"a":0,"p":0,"n":75},{"a":0,"p":1,"n":10},{"a":0,"p":2,"n":0},{"a":0,"p":3,"n":3},{"a":0,"p":4,"n":0},{"a":0,"p":5,"n":0},{"a":0,"p":6,"n":0},
{"a":1,"p":0,"n":6},{"a":1,"p":1,"n":30},{"a":1,"p":2,"n":0},{"a":1,"p":3,"n":9},{"a":1,"p":4,"n":1},{"a":1,"p":5,"n":2},{"a":1,"p":6,"n":0},
{"a":2,"p":0,"n":0},{"a":2,"p":1,"n":0},{"a":2,"p":2,"n":70},{"a":2,"p":3,"n":3},{"a":2,"p":4,"n":0},{"a":2,"p":5,"n":4},{"a":2,"p":6,"n":0},
{"a":3,"p":0,"n":6},{"a":3,"p":1,"n":8},{"a":3,"p":2,"n":0},{"a":3,"p":3,"n":19},{"a":3,"p":4,"n":0},{"a":3,"p":5,"n":3},{"a":3,"p":6,"n":0},
{"a":4,"p":0,"n":2},{"a":4,"p":1,"n":1},{"a":4,"p":2,"n":0},{"a":4,"p":3,"n":4},{"a":4,"p":4,"n":10},{"a":4,"p":5,"n":1},{"a":4,"p":6,"n":2},
{"a":5,"p":0,"n":0},{"a":5,"p":1,"n":5},{"a":5,"p":2,"n":1},{"a":5,"p":3,"n":1},{"a":5,"p":4,"n":0},{"a":5,"p":5,"n":73},{"a":5,"p":6,"n":3},
{"a":6,"p":0,"n":0},{"a":6,"p":1,"n":1},{"a":6,"p":2,"n":0},{"a":6,"p":3,"n":2},{"a":6,"p":4,"n":0},{"a":6,"p":5,"n":1},{"a":6,"p":6,"n":3}],
"cm_rbf":[
{"a":0,"p":0,"n":69},{"a":0,"p":1,"n":8},{"a":0,"p":2,"n":1},{"a":0,"p":3,"n":5},{"a":0,"p":4,"n":2},{"a":0,"p":5,"n":3},{"a":0,"p":6,"n":0},
{"a":1,"p":0,"n":9},{"a":1,"p":1,"n":25},{"a":1,"p":2,"n":0},{"a":1,"p":3,"n":3},{"a":1,"p":4,"n":2},{"a":1,"p":5,"n":8},{"a":1,"p":6,"n":1},
{"a":2,"p":0,"n":5},{"a":2,"p":1,"n":2},{"a":2,"p":2,"n":64},{"a":2,"p":3,"n":1},{"a":2,"p":4,"n":2},{"a":2,"p":5,"n":2},{"a":2,"p":6,"n":1},
{"a":3,"p":0,"n":7},{"a":3,"p":1,"n":7},{"a":3,"p":2,"n":0},{"a":3,"p":3,"n":18},{"a":3,"p":4,"n":1},{"a":3,"p":5,"n":3},{"a":3,"p":6,"n":0},
{"a":4,"p":0,"n":2},{"a":4,"p":1,"n":0},{"a":4,"p":2,"n":0},{"a":4,"p":3,"n":1},{"a":4,"p":4,"n":14},{"a":4,"p":5,"n":3},{"a":4,"p":6,"n":0},
{"a":5,"p":0,"n":5},{"a":5,"p":1,"n":6},{"a":5,"p":2,"n":1},{"a":5,"p":3,"n":2},{"a":5,"p":4,"n":2},{"a":5,"p":5,"n":66},{"a":5,"p":6,"n":1},
{"a":6,"p":0,"n":3},{"a":6,"p":1,"n":0},{"a":6,"p":2,"n":0},{"a":6,"p":3,"n":0},{"a":6,"p":4,"n":0},{"a":6,"p":5,"n":1},{"a":6,"p":6,"n":3}],
"cm_bp":[
{"a":0,"p":0,"n":69},{"a":0,"p":1,"n":8},{"a":0,"p":2,"n":0},{"a":0,"p":3,"n":11},{"a":0,"p":4,"n":0},{"a":0,"p":5,"n":0},{"a":0,"p":6,"n":0},
{"a":1,"p":0,"n":9},{"a":1,"p":1,"n":26},{"a":1,"p":2,"n":0},{"a":1,"p":3,"n":4},{"a":1,"p":4,"n":0},{"a":1,"p":5,"n":9},{"a":1,"p":6,"n":0},
{"a":2,"p":0,"n":0},{"a":2,"p":1,"n":1},{"a":2,"p":2,"n":70},{"a":2,"p":3,"n":2},{"a":2,"p":4,"n":0},{"a":2,"p":5,"n":4},{"a":2,"p":6,"n":0},
{"a":3,"p":0,"n":9},{"a":3,"p":1,"n":7},{"a":3,"p":2,"n":1},{"a":3,"p":3,"n":15},{"a":3,"p":4,"n":0},{"a":3,"p":5,"n":4},{"a":3,"p":6,"n":0},
{"a":4,"p":0,"n":6},{"a":4,"p":1,"n":2},{"a":4,"p":2,"n":1},{"a":4,"p":3,"n":1},{"a":4,"p":4,"n":9},{"a":4,"p":5,"n":1},{"a":4,"p":6,"n":0},
{"a":5,"p":0,"n":10},{"a":5,"p":1,"n":4},{"a":5,"p":2,"n":3},{"a":5,"p":3,"n":1},{"a":5,"p":4,"n":0},{"a":5,"p":5,"n":65},{"a":5,"p":6,"n":0},
{"a":6,"p":0,"n":3},{"a":6,"p":1,"n":0},{"a":6,"p":2,"n":0},{"a":6,"p":3,"n":0},{"a":6,"p":4,"n":1},{"a":6,"p":5,"n":1},{"a":6,"p":6,"n":2}],
"cm_cnn":[
{"a":0,"p":0,"n":80},{"a":0,"p":1,"n":2},{"a":0,"p":2,"n":0},{"a":0,"p":3,"n":5},{"a":0,"p":4,"n":1},{"a":0,"p":5,"n":0},{"a":0,"p":6,"n":0},
{"a":1,"p":0,"n":7},{"a":1,"p":1,"n":29},{"a":1,"p":2,"n":0},{"a":1,"p":3,"n":6},{"a":1,"p":4,"n":1},{"a":1,"p":5,"n":5},{"a":1,"p":6,"n":0},
{"a":2,"p":0,"n":0},{"a":2,"p":1,"n":0},{"a":2,"p":2,"n":71},{"a":2,"p":3,"n":0},{"a":2,"p":4,"n":0},{"a":2,"p":5,"n":6},{"a":2,"p":6,"n":0},
{"a":3,"p":0,"n":5},{"a":3,"p":1,"n":7},{"a":3,"p":2,"n":0},{"a":3,"p":3,"n":17},{"a":3,"p":4,"n":2},{"a":3,"p":5,"n":5},{"a":3,"p":6,"n":0},
{"a":4,"p":0,"n":7},{"a":4,"p":1,"n":1},{"a":4,"p":2,"n":0},{"a":4,"p":3,"n":1},{"a":4,"p":4,"n":8},{"a":4,"p":5,"n":3},{"a":4,"p":6,"n":0},
{"a":5,"p":0,"n":0},{"a":5,"p":1,"n":7},{"a":5,"p":2,"n":4},{"a":5,"p":3,"n":2},{"a":5,"p":4,"n":1},{"a":5,"p":5,"n":69},{"a":5,"p":6,"n":0},
{"a":6,"p":0,"n":0},{"a":6,"p":1,"n":0},{"a":6,"p":2,"n":0},{"a":6,"p":3,"n":0},{"a":6,"p":4,"n":0},{"a":6,"p":5,"n":3},{"a":6,"p":6,"n":4}],
"rows_rf":[{"r":0,"k":"ok","f":0.978},{"r":0,"k":"err","f":0.022},{"r":1,"k":"ok","f":0.756},{"r":1,"k":"err","f":0.244},{"r":2,"k":"ok","f":0.883},{"r":2,"k":"err","f":0.117},{"r":3,"k":"ok","f":0.444},{"r":3,"k":"err","f":0.556},{"r":4,"k":"ok","f":0.667},{"r":4,"k":"err","f":0.333},{"r":5,"k":"ok","f":0.856},{"r":5,"k":"err","f":0.144},{"r":6,"k":"ok","f":0.375},{"r":6,"k":"err","f":0.625}],
"rows_svm":[{"r":0,"k":"ok","f":0.852},{"r":0,"k":"err","f":0.148},{"r":1,"k":"ok","f":0.625},{"r":1,"k":"err","f":0.375},{"r":2,"k":"ok","f":0.909},{"r":2,"k":"err","f":0.091},{"r":3,"k":"ok","f":0.528},{"r":3,"k":"err","f":0.472},{"r":4,"k":"ok","f":0.5},{"r":4,"k":"err","f":0.5},{"r":5,"k":"ok","f":0.88},{"r":5,"k":"err","f":0.12},{"r":6,"k":"ok","f":0.429},{"r":6,"k":"err","f":0.571}],
"rows_rbf":[{"r":0,"k":"ok","f":0.784},{"r":0,"k":"err","f":0.216},{"r":1,"k":"ok","f":0.521},{"r":1,"k":"err","f":0.479},{"r":2,"k":"ok","f":0.831},{"r":2,"k":"err","f":0.169},{"r":3,"k":"ok","f":0.5},{"r":3,"k":"err","f":0.5},{"r":4,"k":"ok","f":0.7},{"r":4,"k":"err","f":0.3},{"r":5,"k":"ok","f":0.795},{"r":5,"k":"err","f":0.205},{"r":6,"k":"ok","f":0.429},{"r":6,"k":"err","f":0.571}],
"rows_bp":[{"r":0,"k":"ok","f":0.784},{"r":0,"k":"err","f":0.216},{"r":1,"k":"ok","f":0.542},{"r":1,"k":"err","f":0.458},{"r":2,"k":"ok","f":0.909},{"r":2,"k":"err","f":0.091},{"r":3,"k":"ok","f":0.417},{"r":3,"k":"err","f":0.583},{"r":4,"k":"ok","f":0.45},{"r":4,"k":"err","f":0.55},{"r":5,"k":"ok","f":0.783},{"r":5,"k":"err","f":0.217},{"r":6,"k":"ok","f":0.286},{"r":6,"k":"err","f":0.714}],
"rows_cnn":[{"r":0,"k":"ok","f":0.909},{"r":0,"k":"err","f":0.091},{"r":1,"k":"ok","f":0.604},{"r":1,"k":"err","f":0.396},{"r":2,"k":"ok","f":0.922},{"r":2,"k":"err","f":0.078},{"r":3,"k":"ok","f":0.472},{"r":3,"k":"err","f":0.528},{"r":4,"k":"ok","f":0.4},{"r":4,"k":"err","f":0.6},{"r":5,"k":"ok","f":0.831},{"r":5,"k":"err","f":0.169},{"r":6,"k":"ok","f":0.571},{"r":6,"k":"err","f":0.429}],
"cols_rf":[{"p":0,"k":"ok","f":0.867},{"p":0,"k":"err","f":0.133},{"p":1,"k":"ok","f":0.66},{"p":1,"k":"err","f":0.34},{"p":2,"k":"ok","f":0.861},{"p":2,"k":"err","f":0.139},{"p":3,"k":"ok","f":0.8},{"p":3,"k":"err","f":0.2},{"p":4,"k":"ok","f":0.909},{"p":4,"k":"err","f":0.091},{"p":5,"k":"ok","f":0.811},{"p":5,"k":"err","f":0.189},{"p":6,"k":"ok","f":1},{"p":6,"k":"err","f":0}],
"cols_svm":[{"p":0,"k":"ok","f":0.843},{"p":0,"k":"err","f":0.157},{"p":1,"k":"ok","f":0.545},{"p":1,"k":"err","f":0.455},{"p":2,"k":"ok","f":0.986},{"p":2,"k":"err","f":0.014},{"p":3,"k":"ok","f":0.463},{"p":3,"k":"err","f":0.537},{"p":4,"k":"ok","f":0.909},{"p":4,"k":"err","f":0.091},{"p":5,"k":"ok","f":0.869},{"p":5,"k":"err","f":0.131},{"p":6,"k":"ok","f":0.375},{"p":6,"k":"err","f":0.625}],
"cols_rbf":[{"p":0,"k":"ok","f":0.69},{"p":0,"k":"err","f":0.31},{"p":1,"k":"ok","f":0.521},{"p":1,"k":"err","f":0.479},{"p":2,"k":"ok","f":0.97},{"p":2,"k":"err","f":0.03},{"p":3,"k":"ok","f":0.6},{"p":3,"k":"err","f":0.4},{"p":4,"k":"ok","f":0.609},{"p":4,"k":"err","f":0.391},{"p":5,"k":"ok","f":0.767},{"p":5,"k":"err","f":0.233},{"p":6,"k":"ok","f":0.5},{"p":6,"k":"err","f":0.5}],
"cols_bp":[{"p":0,"k":"ok","f":0.651},{"p":0,"k":"err","f":0.349},{"p":1,"k":"ok","f":0.542},{"p":1,"k":"err","f":0.458},{"p":2,"k":"ok","f":0.933},{"p":2,"k":"err","f":0.067},{"p":3,"k":"ok","f":0.441},{"p":3,"k":"err","f":0.559},{"p":4,"k":"ok","f":0.9},{"p":4,"k":"err","f":0.1},{"p":5,"k":"ok","f":0.774},{"p":5,"k":"err","f":0.226},{"p":6,"k":"ok","f":1},{"p":6,"k":"err","f":0}],
"cols_cnn":[{"p":0,"k":"ok","f":0.808},{"p":0,"k":"err","f":0.192},{"p":1,"k":"ok","f":0.63},{"p":1,"k":"err","f":0.37},{"p":2,"k":"ok","f":0.947},{"p":2,"k":"err","f":0.053},{"p":3,"k":"ok","f":0.548},{"p":3,"k":"err","f":0.452},{"p":4,"k":"ok","f":0.615},{"p":4,"k":"err","f":0.385},{"p":5,"k":"ok","f":0.758},{"p":5,"k":"err","f":0.242},{"p":6,"k":"ok","f":1},{"p":6,"k":"err","f":0}]
},
"hconcat":[
{"spacing":1,"resolve":{"scale":{"color":"independent","fillOpacity":"independent"},"legend":{"color":"independent"}},
"vconcat":[
{"width":142,"height":114,"title":{"text":["Random Forest","Accuray=82.22%"]},"view":{"stroke":"#bdbdbd"},"data":{"name":"samples"},
"encoding":{"x":{"field":"i","type":"quantitative","title":null,"scale":{"domain":[0,400],"nice":false,"zero":false},"axis":{"values":[0,50,100,150,200,250,300,350,400],"labelExpr":"datum.value % 100 === 0 ? datum.label : ''","grid":true,"gridColor":"#e6e6e6","ticks":false,"domain":false,"labelPadding":0,"labelFlush":false,"labelOverlap":false}}},
"layer":[
{"mark":{"type":"line","strokeWidth":1},"encoding":{"y":{"field":"ra","type":"quantitative","title":null,"scale":{"domain":[0,6],"nice":false,"zero":false},"axis":{"values":[0,1,2,3,4,5,6],"labelExpr":"['StableHC','StableMCI','StableAD','UnstableReverse','UnstableConvertibleHC','UnstableConvertibleMCI','UnstableProgress'][datum.value]","grid":true,"gridColor":"#e6e6e6","ticks":false,"domain":false,"labelPadding":2}},"color":{"datum":"Actual","scale":{"domain":["Actual","Predict"],"range":["#ff0000","#3a3aff"]},"legend":{"title":null,"orient":"top-right","offset":3,"padding":1.5,"rowPadding":0,"labelFontSize":3.5,"symbolSize":30,"symbolStrokeWidth":0.8,"strokeColor":"#a0a0a0","fillColor":"white","labelOffset":1,"symbolType":"stroke"}}}},
{"mark":{"type":"line","strokeWidth":0.8,"opacity":0.45},"encoding":{"y":{"field":"rf","type":"quantitative","title":null,"scale":{"domain":[0,6],"nice":false,"zero":false},"axis":{"values":[0,1,2,3,4,5,6],"labelExpr":"['StableHC','StableMCI','StableAD','UnstableReverse','UnstableConvertibleHC','UnstableConvertibleMCI','UnstableProgress'][datum.value]","grid":true,"gridColor":"#e6e6e6","ticks":false,"domain":false,"labelPadding":2}},"color":{"datum":"Predict"}}},
{"mark":{"type":"point","shape":"circle","filled":false,"size":9,"strokeWidth":0.7,"opacity":0.75,"color":"#2424d8"},"encoding":{"y":{"field":"rf","type":"quantitative","title":null,"scale":{"domain":[0,6],"nice":false,"zero":false},"axis":{"values":[0,1,2,3,4,5,6],"labelExpr":"['StableHC','StableMCI','StableAD','UnstableReverse','UnstableConvertibleHC','UnstableConvertibleMCI','UnstableProgress'][datum.value]","grid":true,"gridColor":"#e6e6e6","ticks":false,"domain":false,"labelPadding":2}}}}
]},
{"spacing":7,"vconcat":[
{"spacing":13,"hconcat":[
{"width":100,"height":81,"title":{"text":"Confusion Matrix","offset":1},"data":{"name":"cm_rf"},
"encoding":{"x":{"field":"p","type":"ordinal","axis":null},"y":{"field":"a","type":"ordinal","axis":{"labelExpr":"['StableHC','StableMCI','StableAD','UnstableReverse','ConvertibleHC','UnstableConvertibleMCI','UnstableProgress'][datum.value]","ticks":false,"domain":false,"labelPadding":2,"title":"Actual Class","titlePadding":4}}},
"layer":[
{"mark":{"type":"rect","fill":"white","stroke":"#d6d6d6","strokeWidth":1}},
{"transform":[{"filter":"datum.a === datum.p"}],"mark":{"type":"rect","fill":"#0072bd","stroke":"#d6d6d6","strokeWidth":1},"encoding":{"fillOpacity":{"field":"n","type":"quantitative","scale":{"domain":[0,91],"range":[0,1]},"legend":null}}},
{"transform":[{"filter":"datum.a !== datum.p"}],"mark":{"type":"rect","fill":"#d95319","stroke":"#d6d6d6","strokeWidth":1},"encoding":{"fillOpacity":{"field":"n","type":"quantitative","scale":{"domain":[0,91],"range":[0,1]},"legend":null}}},
{"transform":[{"filter":"datum.n > 0"}],"mark":{"type":"text","fontSize":4.5},"encoding":{"text":{"field":"n","type":"quantitative"},"color":{"condition":{"test":"datum.a === datum.p && datum.n > 45","value":"white"},"value":"black"}}}
]},
{"width":31,"height":81,"data":{"name":"rows_rf"},
"encoding":{"x":{"field":"k","type":"nominal","sort":["ok","err"],"axis":null},"y":{"field":"r","type":"ordinal","axis":null}},
"layer":[
{"mark":{"type":"rect","fill":"white","stroke":"#d6d6d6"}},
{"transform":[{"filter":"datum.k === 'ok'"}],"mark":{"type":"rect","fill":"#0072bd","stroke":"#d6d6d6"},"encoding":{"fillOpacity":{"field":"f","type":"quantitative","scale":null}}},
{"transform":[{"filter":"datum.k === 'err'"}],"mark":{"type":"rect","fill":"#d95319","stroke":"#d6d6d6"},"encoding":{"fillOpacity":{"field":"f","type":"quantitative","scale":null}}},
{"transform":[{"filter":"datum.f > 0"}],"mark":{"type":"text","fontSize":3.8},"encoding":{"text":{"field":"f","type":"quantitative","format":".1%"},"color":{"condition":{"test":"datum.k === 'ok' && datum.f > 0.5","value":"white"},"value":"black"}}}
]}
]},
{"width":100,"height":22,"data":{"name":"cols_rf"},
"encoding":{"x":{"field":"p","type":"ordinal","axis":{"labelExpr":"['StableHC','StableMCI','StableAD','UnstableReverse','UnstableConvertibleHC','UnstableConvertibleMCI','UnstableProgress'][datum.value]","labelAngle":-62,"labelAlign":"right","labelBaseline":"middle","labelFontSize":11.5,"labelDy":3,"ticks":false,"domain":false,"labelPadding":3,"labelLimit":200,"title":"Predicted Class","titlePadding":0,"titleX":36}},"y":{"field":"k","type":"nominal","sort":["ok","err"],"axis":null}},
"layer":[
{"mark":{"type":"rect","fill":"white","stroke":"#d6d6d6"}},
{"transform":[{"filter":"datum.k === 'ok'"}],"mark":{"type":"rect","fill":"#0072bd","stroke":"#d6d6d6"},"encoding":{"fillOpacity":{"field":"f","type":"quantitative","scale":null}}},
{"transform":[{"filter":"datum.k === 'err'"}],"mark":{"type":"rect","fill":"#d95319","stroke":"#d6d6d6"},"encoding":{"fillOpacity":{"field":"f","type":"quantitative","scale":null}}},
{"transform":[{"filter":"datum.f > 0"}],"mark":{"type":"text","fontSize":3.8},"encoding":{"text":{"field":"f","type":"quantitative","format":".1%"},"color":{"condition":{"test":"datum.k === 'ok' && datum.f > 0.5","value":"white"},"value":"black"}}}
]}
]}
]},
{"spacing":1,"resolve":{"scale":{"color":"independent","fillOpacity":"independent"},"legend":{"color":"independent"}},
"vconcat":[
{"width":141,"height":114,"title":{"text":["Support Vector Machines","Accuray=77.99%"]},"view":{"stroke":"#bdbdbd"},"data":{"name":"samples"},
"encoding":{"x":{"field":"i","type":"quantitative","title":null,"scale":{"domain":[0,400],"nice":false,"zero":false},"axis":{"values":[0,50,100,150,200,250,300,350,400],"labelExpr":"datum.value % 100 === 0 ? datum.label : ''","grid":true,"gridColor":"#e6e6e6","ticks":false,"domain":false,"labelPadding":0,"labelFlush":false,"labelOverlap":false}}},
"layer":[
{"mark":{"type":"line","strokeWidth":1},"encoding":{"y":{"field":"a","type":"quantitative","title":null,"scale":{"domain":[0,6],"nice":false,"zero":false},"axis":{"values":[0,1,2,3,4,5,6],"labels":false,"grid":true,"gridColor":"#e6e6e6","ticks":false,"domain":false}},"color":{"datum":"Actual","scale":{"domain":["Actual","Predict"],"range":["#ff0000","#3a3aff"]},"legend":{"title":null,"orient":"top-right","offset":3,"padding":1.5,"rowPadding":0,"labelFontSize":3.5,"symbolSize":30,"symbolStrokeWidth":0.8,"strokeColor":"#a0a0a0","fillColor":"white","labelOffset":1,"symbolType":"stroke"}}}},
{"mark":{"type":"line","strokeWidth":0.8,"opacity":0.45},"encoding":{"y":{"field":"svm","type":"quantitative","title":null,"scale":{"domain":[0,6],"nice":false,"zero":false},"axis":{"values":[0,1,2,3,4,5,6],"labels":false,"grid":true,"gridColor":"#e6e6e6","ticks":false,"domain":false}},"color":{"datum":"Predict"}}},
{"mark":{"type":"point","shape":"circle","filled":false,"size":9,"strokeWidth":0.7,"opacity":0.75,"color":"#2424d8"},"encoding":{"y":{"field":"svm","type":"quantitative","title":null,"scale":{"domain":[0,6],"nice":false,"zero":false},"axis":{"values":[0,1,2,3,4,5,6],"labels":false,"grid":true,"gridColor":"#e6e6e6","ticks":false,"domain":false}}}}
]},
{"spacing":7,"vconcat":[
{"spacing":13,"hconcat":[
{"width":100,"height":81,"title":{"text":"Confusion Matrix","offset":1},"data":{"name":"cm_svm"},
"encoding":{"x":{"field":"p","type":"ordinal","axis":null},"y":{"field":"a","type":"ordinal","axis":null}},
"layer":[
{"mark":{"type":"rect","fill":"white","stroke":"#d6d6d6","strokeWidth":1}},
{"transform":[{"filter":"datum.a === datum.p"}],"mark":{"type":"rect","fill":"#0072bd","stroke":"#d6d6d6","strokeWidth":1},"encoding":{"fillOpacity":{"field":"n","type":"quantitative","scale":{"domain":[0,75],"range":[0,1]},"legend":null}}},
{"transform":[{"filter":"datum.a !== datum.p"}],"mark":{"type":"rect","fill":"#d95319","stroke":"#d6d6d6","strokeWidth":1},"encoding":{"fillOpacity":{"field":"n","type":"quantitative","scale":{"domain":[0,75],"range":[0,1]},"legend":null}}},
{"transform":[{"filter":"datum.n > 0"}],"mark":{"type":"text","fontSize":4.5},"encoding":{"text":{"field":"n","type":"quantitative"},"color":{"condition":{"test":"datum.a === datum.p && datum.n > 37","value":"white"},"value":"black"}}}
]},
{"width":31,"height":81,"data":{"name":"rows_svm"},
"encoding":{"x":{"field":"k","type":"nominal","sort":["ok","err"],"axis":null},"y":{"field":"r","type":"ordinal","axis":null}},
"layer":[
{"mark":{"type":"rect","fill":"white","stroke":"#d6d6d6"}},
{"transform":[{"filter":"datum.k === 'ok'"}],"mark":{"type":"rect","fill":"#0072bd","stroke":"#d6d6d6"},"encoding":{"fillOpacity":{"field":"f","type":"quantitative","scale":null}}},
{"transform":[{"filter":"datum.k === 'err'"}],"mark":{"type":"rect","fill":"#d95319","stroke":"#d6d6d6"},"encoding":{"fillOpacity":{"field":"f","type":"quantitative","scale":null}}},
{"transform":[{"filter":"datum.f > 0"}],"mark":{"type":"text","fontSize":3.8},"encoding":{"text":{"field":"f","type":"quantitative","format":".1%"},"color":{"condition":{"test":"datum.k === 'ok' && datum.f > 0.5","value":"white"},"value":"black"}}}
]}
]},
{"width":100,"height":22,"data":{"name":"cols_svm"},
"encoding":{"x":{"field":"p","type":"ordinal","axis":{"labelExpr":"['StableHC','StableMCI','StableAD','UnstableReverse','UnstableConvertibleHC','UnstableConvertibleMCI','UnstableProgress'][datum.value]","labelAngle":-62,"labelAlign":"right","labelBaseline":"middle","labelFontSize":11.5,"labelDy":3,"ticks":false,"domain":false,"labelPadding":3,"labelLimit":200,"title":"Predicted Class","titlePadding":0,"titleX":48}},"y":{"field":"k","type":"nominal","sort":["ok","err"],"axis":null}},
"layer":[
{"mark":{"type":"rect","fill":"white","stroke":"#d6d6d6"}},
{"transform":[{"filter":"datum.k === 'ok'"}],"mark":{"type":"rect","fill":"#0072bd","stroke":"#d6d6d6"},"encoding":{"fillOpacity":{"field":"f","type":"quantitative","scale":null}}},
{"transform":[{"filter":"datum.k === 'err'"}],"mark":{"type":"rect","fill":"#d95319","stroke":"#d6d6d6"},"encoding":{"fillOpacity":{"field":"f","type":"quantitative","scale":null}}},
{"transform":[{"filter":"datum.f > 0"}],"mark":{"type":"text","fontSize":3.8},"encoding":{"text":{"field":"f","type":"quantitative","format":".1%"},"color":{"condition":{"test":"datum.k === 'ok' && datum.f > 0.5","value":"white"},"value":"black"}}}
]}
]}
]},
{"spacing":1,"resolve":{"scale":{"color":"independent","fillOpacity":"independent"},"legend":{"color":"independent"}},
"vconcat":[
{"width":141,"height":114,"title":{"text":["Radial Basis Function Networks","Accuray=72.14%"]},"view":{"stroke":"#bdbdbd"},"data":{"name":"samples"},
"encoding":{"x":{"field":"i","type":"quantitative","title":null,"scale":{"domain":[0,372],"nice":false,"zero":false},"axis":{"values":[0,50,100,150,200,250,300,350],"labelExpr":"datum.value % 100 === 0 ? datum.label : ''","grid":true,"gridColor":"#e6e6e6","ticks":false,"domain":false,"labelPadding":0,"labelFlush":false,"labelOverlap":false}}},
"layer":[
{"mark":{"type":"line","strokeWidth":1},"encoding":{"y":{"field":"a","type":"quantitative","title":null,"scale":{"domain":[0,6],"nice":false,"zero":false},"axis":{"values":[0,1,2,3,4,5,6],"labels":false,"grid":true,"gridColor":"#e6e6e6","ticks":false,"domain":false}},"color":{"datum":"Actual","scale":{"domain":["Actual","Predict"],"range":["#ff0000","#3a3aff"]},"legend":{"title":null,"orient":"top-right","offset":3,"padding":1.5,"rowPadding":0,"labelFontSize":3.5,"symbolSize":30,"symbolStrokeWidth":0.8,"strokeColor":"#a0a0a0","fillColor":"white","labelOffset":1,"symbolType":"stroke"}}}},
{"mark":{"type":"line","strokeWidth":0.8,"opacity":0.45},"encoding":{"y":{"field":"rbf","type":"quantitative","title":null,"scale":{"domain":[0,6],"nice":false,"zero":false},"axis":{"values":[0,1,2,3,4,5,6],"labels":false,"grid":true,"gridColor":"#e6e6e6","ticks":false,"domain":false}},"color":{"datum":"Predict"}}},
{"mark":{"type":"point","shape":"circle","filled":false,"size":9,"strokeWidth":0.7,"opacity":0.75,"color":"#2424d8"},"encoding":{"y":{"field":"rbf","type":"quantitative","title":null,"scale":{"domain":[0,6],"nice":false,"zero":false},"axis":{"values":[0,1,2,3,4,5,6],"labels":false,"grid":true,"gridColor":"#e6e6e6","ticks":false,"domain":false}}}}
]},
{"spacing":7,"vconcat":[
{"spacing":13,"hconcat":[
{"width":100,"height":81,"title":{"text":"Confusion Matrix","offset":1},"data":{"name":"cm_rbf"},
"encoding":{"x":{"field":"p","type":"ordinal","axis":null},"y":{"field":"a","type":"ordinal","axis":null}},
"layer":[
{"mark":{"type":"rect","fill":"white","stroke":"#d6d6d6","strokeWidth":1}},
{"transform":[{"filter":"datum.a === datum.p"}],"mark":{"type":"rect","fill":"#0072bd","stroke":"#d6d6d6","strokeWidth":1},"encoding":{"fillOpacity":{"field":"n","type":"quantitative","scale":{"domain":[0,69],"range":[0,1]},"legend":null}}},
{"transform":[{"filter":"datum.a !== datum.p"}],"mark":{"type":"rect","fill":"#d95319","stroke":"#d6d6d6","strokeWidth":1},"encoding":{"fillOpacity":{"field":"n","type":"quantitative","scale":{"domain":[0,69],"range":[0,1]},"legend":null}}},
{"transform":[{"filter":"datum.n > 0"}],"mark":{"type":"text","fontSize":4.5},"encoding":{"text":{"field":"n","type":"quantitative"},"color":{"condition":{"test":"datum.a === datum.p && datum.n > 34","value":"white"},"value":"black"}}}
]},
{"width":31,"height":81,"data":{"name":"rows_rbf"},
"encoding":{"x":{"field":"k","type":"nominal","sort":["ok","err"],"axis":null},"y":{"field":"r","type":"ordinal","axis":null}},
"layer":[
{"mark":{"type":"rect","fill":"white","stroke":"#d6d6d6"}},
{"transform":[{"filter":"datum.k === 'ok'"}],"mark":{"type":"rect","fill":"#0072bd","stroke":"#d6d6d6"},"encoding":{"fillOpacity":{"field":"f","type":"quantitative","scale":null}}},
{"transform":[{"filter":"datum.k === 'err'"}],"mark":{"type":"rect","fill":"#d95319","stroke":"#d6d6d6"},"encoding":{"fillOpacity":{"field":"f","type":"quantitative","scale":null}}},
{"transform":[{"filter":"datum.f > 0"}],"mark":{"type":"text","fontSize":3.8},"encoding":{"text":{"field":"f","type":"quantitative","format":".1%"},"color":{"condition":{"test":"datum.k === 'ok' && datum.f > 0.5","value":"white"},"value":"black"}}}
]}
]},
{"width":100,"height":22,"data":{"name":"cols_rbf"},
"encoding":{"x":{"field":"p","type":"ordinal","axis":{"labelExpr":"['StableHC','StableMCI','StableAD','UnstableReverse','UnstableConvertibleHC','UnstableConvertibleMCI','UnstableProgress'][datum.value]","labelAngle":-62,"labelAlign":"right","labelBaseline":"middle","labelFontSize":11.5,"labelDy":3,"ticks":false,"domain":false,"labelPadding":3,"labelLimit":200,"title":"Predicted Class","titlePadding":0,"titleX":33}},"y":{"field":"k","type":"nominal","sort":["ok","err"],"axis":null}},
"layer":[
{"mark":{"type":"rect","fill":"white","stroke":"#d6d6d6"}},
{"transform":[{"filter":"datum.k === 'ok'"}],"mark":{"type":"rect","fill":"#0072bd","stroke":"#d6d6d6"},"encoding":{"fillOpacity":{"field":"f","type":"quantitative","scale":null}}},
{"transform":[{"filter":"datum.k === 'err'"}],"mark":{"type":"rect","fill":"#d95319","stroke":"#d6d6d6"},"encoding":{"fillOpacity":{"field":"f","type":"quantitative","scale":null}}},
{"transform":[{"filter":"datum.f > 0"}],"mark":{"type":"text","fontSize":3.8},"encoding":{"text":{"field":"f","type":"quantitative","format":".1%"},"color":{"condition":{"test":"datum.k === 'ok' && datum.f > 0.5","value":"white"},"value":"black"}}}
]}
]}
]},
{"spacing":19,"resolve":{"scale":{"color":"independent","fillOpacity":"independent"},"legend":{"color":"independent"}},
"hconcat":[
{"spacing":1,"resolve":{"scale":{"color":"independent","fillOpacity":"independent"},"legend":{"color":"independent"}},
"vconcat":[
{"width":142,"height":114,"title":{"text":["Backpropagation Networks","Accuray=71.30%"]},"view":{"stroke":"#bdbdbd"},"data":{"name":"samples"},
"encoding":{"x":{"field":"i","type":"quantitative","title":null,"scale":{"domain":[0,400],"nice":false,"zero":false},"axis":{"values":[0,50,100,150,200,250,300,350,400],"labelExpr":"datum.value % 100 === 0 ? datum.label : ''","grid":true,"gridColor":"#e6e6e6","ticks":false,"domain":false,"labelPadding":0,"labelFlush":false,"labelOverlap":false}}},
"layer":[
{"mark":{"type":"line","strokeWidth":1},"encoding":{"y":{"field":"a","type":"quantitative","title":null,"scale":{"domain":[0,6],"nice":false,"zero":false},"axis":{"values":[0,1,2,3,4,5,6],"labels":false,"grid":true,"gridColor":"#e6e6e6","ticks":false,"domain":false}},"color":{"datum":"Actual","scale":{"domain":["Actual","Predict"],"range":["#ff0000","#3a3aff"]},"legend":{"title":null,"orient":"top-right","offset":3,"padding":1.5,"rowPadding":0,"labelFontSize":3.5,"symbolSize":30,"symbolStrokeWidth":0.8,"strokeColor":"#a0a0a0","fillColor":"white","labelOffset":1,"symbolType":"stroke"}}}},
{"mark":{"type":"line","strokeWidth":0.8,"opacity":0.45},"encoding":{"y":{"field":"bp","type":"quantitative","title":null,"scale":{"domain":[0,6],"nice":false,"zero":false},"axis":{"values":[0,1,2,3,4,5,6],"labels":false,"grid":true,"gridColor":"#e6e6e6","ticks":false,"domain":false}},"color":{"datum":"Predict"}}},
{"mark":{"type":"point","shape":"circle","filled":false,"size":9,"strokeWidth":0.7,"opacity":0.75,"color":"#2424d8"},"encoding":{"y":{"field":"bp","type":"quantitative","title":null,"scale":{"domain":[0,6],"nice":false,"zero":false},"axis":{"values":[0,1,2,3,4,5,6],"labels":false,"grid":true,"gridColor":"#e6e6e6","ticks":false,"domain":false}}}}
]},
{"spacing":7,"vconcat":[
{"spacing":13,"hconcat":[
{"width":100,"height":81,"title":{"text":"Confusion Matrix","offset":1},"data":{"name":"cm_bp"},
"encoding":{"x":{"field":"p","type":"ordinal","axis":null},"y":{"field":"a","type":"ordinal","axis":null}},
"layer":[
{"mark":{"type":"rect","fill":"white","stroke":"#d6d6d6","strokeWidth":1}},
{"transform":[{"filter":"datum.a === datum.p"}],"mark":{"type":"rect","fill":"#0072bd","stroke":"#d6d6d6","strokeWidth":1},"encoding":{"fillOpacity":{"field":"n","type":"quantitative","scale":{"domain":[0,70],"range":[0,1]},"legend":null}}},
{"transform":[{"filter":"datum.a !== datum.p"}],"mark":{"type":"rect","fill":"#d95319","stroke":"#d6d6d6","strokeWidth":1},"encoding":{"fillOpacity":{"field":"n","type":"quantitative","scale":{"domain":[0,70],"range":[0,1]},"legend":null}}},
{"transform":[{"filter":"datum.n > 0"}],"mark":{"type":"text","fontSize":4.5},"encoding":{"text":{"field":"n","type":"quantitative"},"color":{"condition":{"test":"datum.a === datum.p && datum.n > 35","value":"white"},"value":"black"}}}
]},
{"width":31,"height":81,"data":{"name":"rows_bp"},
"encoding":{"x":{"field":"k","type":"nominal","sort":["ok","err"],"axis":null},"y":{"field":"r","type":"ordinal","axis":null}},
"layer":[
{"mark":{"type":"rect","fill":"white","stroke":"#d6d6d6"}},
{"transform":[{"filter":"datum.k === 'ok'"}],"mark":{"type":"rect","fill":"#0072bd","stroke":"#d6d6d6"},"encoding":{"fillOpacity":{"field":"f","type":"quantitative","scale":null}}},
{"transform":[{"filter":"datum.k === 'err'"}],"mark":{"type":"rect","fill":"#d95319","stroke":"#d6d6d6"},"encoding":{"fillOpacity":{"field":"f","type":"quantitative","scale":null}}},
{"transform":[{"filter":"datum.f > 0"}],"mark":{"type":"text","fontSize":3.8},"encoding":{"text":{"field":"f","type":"quantitative","format":".1%"},"color":{"condition":{"test":"datum.k === 'ok' && datum.f > 0.5","value":"white"},"value":"black"}}}
]}
]},
{"width":100,"height":22,"data":{"name":"cols_bp"},
"encoding":{"x":{"field":"p","type":"ordinal","axis":{"labelExpr":"['StableHC','StableMCI','StableAD','UnstableReverse','UnstableConvertibleHC','UnstableConvertibleMCI','UnstableProgress'][datum.value]","labelAngle":-62,"labelAlign":"right","labelBaseline":"middle","labelFontSize":11.5,"labelDy":3,"ticks":false,"domain":false,"labelPadding":3,"labelLimit":200,"title":"Predicted Class","titlePadding":0,"titleX":34}},"y":{"field":"k","type":"nominal","sort":["ok","err"],"axis":null}},
"layer":[
{"mark":{"type":"rect","fill":"white","stroke":"#d6d6d6"}},
{"transform":[{"filter":"datum.k === 'ok'"}],"mark":{"type":"rect","fill":"#0072bd","stroke":"#d6d6d6"},"encoding":{"fillOpacity":{"field":"f","type":"quantitative","scale":null}}},
{"transform":[{"filter":"datum.k === 'err'"}],"mark":{"type":"rect","fill":"#d95319","stroke":"#d6d6d6"},"encoding":{"fillOpacity":{"field":"f","type":"quantitative","scale":null}}},
{"transform":[{"filter":"datum.f > 0"}],"mark":{"type":"text","fontSize":3.8},"encoding":{"text":{"field":"f","type":"quantitative","format":".1%"},"color":{"condition":{"test":"datum.k === 'ok' && datum.f > 0.5","value":"white"},"value":"black"}}}
]}
]}
]},
{"spacing":1,"resolve":{"scale":{"color":"independent","fillOpacity":"independent"},"legend":{"color":"independent"}},
"vconcat":[
{"width":141,"height":114,"title":{"text":["Convolutional Neural Network","Accuracy=77.43%"]},"view":{"stroke":"#bdbdbd"},"data":{"name":"samples"},
"encoding":{"x":{"field":"i","type":"quantitative","scale":{"domain":[0,400],"nice":false,"zero":false},"axis":{"values":[0,50,100,150,200,250,300,350,400],"labelExpr":"datum.value % 100 === 0 ? datum.label : ''","grid":true,"gridColor":"#e6e6e6","ticks":false,"domain":false,"labelPadding":0,"labelFlush":false,"labelOverlap":false,"title":["Sample","Number"],"titleX":158,"titleY":-8,"titleAlign":"left","titleBaseline":"top","titleAngle":0,"titleFontSize":10,"titleLineHeight":11}}},
"layer":[
{"mark":{"type":"line","strokeWidth":1},"encoding":{"y":{"field":"a","type":"quantitative","title":null,"scale":{"domain":[0,6],"nice":false,"zero":false},"axis":{"values":[0,1,2,3,4,5,6],"labels":false,"grid":true,"gridColor":"#e6e6e6","ticks":false,"domain":false}},"color":{"datum":"Actual","scale":{"domain":["Actual","Predict"],"range":["#ff0000","#3a3aff"]},"legend":{"title":null,"orient":"top-right","offset":3,"padding":1.5,"rowPadding":0,"labelFontSize":3.5,"symbolSize":30,"symbolStrokeWidth":0.8,"strokeColor":"#a0a0a0","fillColor":"white","labelOffset":1,"symbolType":"stroke"}}}},
{"mark":{"type":"line","strokeWidth":0.8,"opacity":0.45},"encoding":{"y":{"field":"cnn","type":"quantitative","title":null,"scale":{"domain":[0,6],"nice":false,"zero":false},"axis":{"values":[0,1,2,3,4,5,6],"labels":false,"grid":true,"gridColor":"#e6e6e6","ticks":false,"domain":false}},"color":{"datum":"Predict"}}},
{"mark":{"type":"point","shape":"circle","filled":false,"size":9,"strokeWidth":0.7,"opacity":0.75,"color":"#2424d8"},"encoding":{"y":{"field":"cnn","type":"quantitative","title":null,"scale":{"domain":[0,6],"nice":false,"zero":false},"axis":{"values":[0,1,2,3,4,5,6],"labels":false,"grid":true,"gridColor":"#e6e6e6","ticks":false,"domain":false}}}}
]},
{"spacing":7,"vconcat":[
{"spacing":13,"hconcat":[
{"width":100,"height":81,"title":{"text":"Confusion Matrix","offset":1},"data":{"name":"cm_cnn"},
"encoding":{"x":{"field":"p","type":"ordinal","axis":null},"y":{"field":"a","type":"ordinal","axis":null}},
"layer":[
{"mark":{"type":"rect","fill":"white","stroke":"#d6d6d6","strokeWidth":1}},
{"transform":[{"filter":"datum.a === datum.p"}],"mark":{"type":"rect","fill":"#0072bd","stroke":"#d6d6d6","strokeWidth":1},"encoding":{"fillOpacity":{"field":"n","type":"quantitative","scale":{"domain":[0,80],"range":[0,1]},"legend":null}}},
{"transform":[{"filter":"datum.a !== datum.p"}],"mark":{"type":"rect","fill":"#d95319","stroke":"#d6d6d6","strokeWidth":1},"encoding":{"fillOpacity":{"field":"n","type":"quantitative","scale":{"domain":[0,80],"range":[0,1]},"legend":null}}},
{"transform":[{"filter":"datum.n > 0"}],"mark":{"type":"text","fontSize":4.5},"encoding":{"text":{"field":"n","type":"quantitative"},"color":{"condition":{"test":"datum.a === datum.p && datum.n > 40","value":"white"},"value":"black"}}}
]},
{"width":31,"height":81,"data":{"name":"rows_cnn"},
"encoding":{"x":{"field":"k","type":"nominal","sort":["ok","err"],"axis":null},"y":{"field":"r","type":"ordinal","axis":null}},
"layer":[
{"mark":{"type":"rect","fill":"white","stroke":"#d6d6d6"}},
{"transform":[{"filter":"datum.k === 'ok'"}],"mark":{"type":"rect","fill":"#0072bd","stroke":"#d6d6d6"},"encoding":{"fillOpacity":{"field":"f","type":"quantitative","scale":null}}},
{"transform":[{"filter":"datum.k === 'err'"}],"mark":{"type":"rect","fill":"#d95319","stroke":"#d6d6d6"},"encoding":{"fillOpacity":{"field":"f","type":"quantitative","scale":null}}},
{"transform":[{"filter":"datum.f > 0"}],"mark":{"type":"text","fontSize":3.8},"encoding":{"text":{"field":"f","type":"quantitative","format":".1%"},"color":{"condition":{"test":"datum.k === 'ok' && datum.f > 0.5","value":"white"},"value":"black"}}}
]}
]},
{"width":100,"height":22,"data":{"name":"cols_cnn"},
"encoding":{"x":{"field":"p","type":"ordinal","axis":{"labelExpr":"['StableHC','StableMCI','StableAD','UnstableReverse','UnstableConvertibleHC','UnstableConvertibleMCI','UnstableProgress'][datum.value]","labelAngle":-62,"labelAlign":"right","labelBaseline":"middle","labelFontSize":11.5,"labelDy":3,"ticks":false,"domain":false,"labelPadding":3,"labelLimit":200,"title":"Predicted Class","titlePadding":0,"titleX":33}},"y":{"field":"k","type":"nominal","sort":["ok","err"],"axis":null}},
"layer":[
{"mark":{"type":"rect","fill":"white","stroke":"#d6d6d6"}},
{"transform":[{"filter":"datum.k === 'ok'"}],"mark":{"type":"rect","fill":"#0072bd","stroke":"#d6d6d6"},"encoding":{"fillOpacity":{"field":"f","type":"quantitative","scale":null}}},
{"transform":[{"filter":"datum.k === 'err'"}],"mark":{"type":"rect","fill":"#d95319","stroke":"#d6d6d6"},"encoding":{"fillOpacity":{"field":"f","type":"quantitative","scale":null}}},
{"transform":[{"filter":"datum.f > 0"}],"mark":{"type":"text","fontSize":3.8},"encoding":{"text":{"field":"f","type":"quantitative","format":".1%"},"color":{"condition":{"test":"datum.k === 'ok' && datum.f > 0.5","value":"white"},"value":"black"}}}
]}
]}
]}
]}
]
}
